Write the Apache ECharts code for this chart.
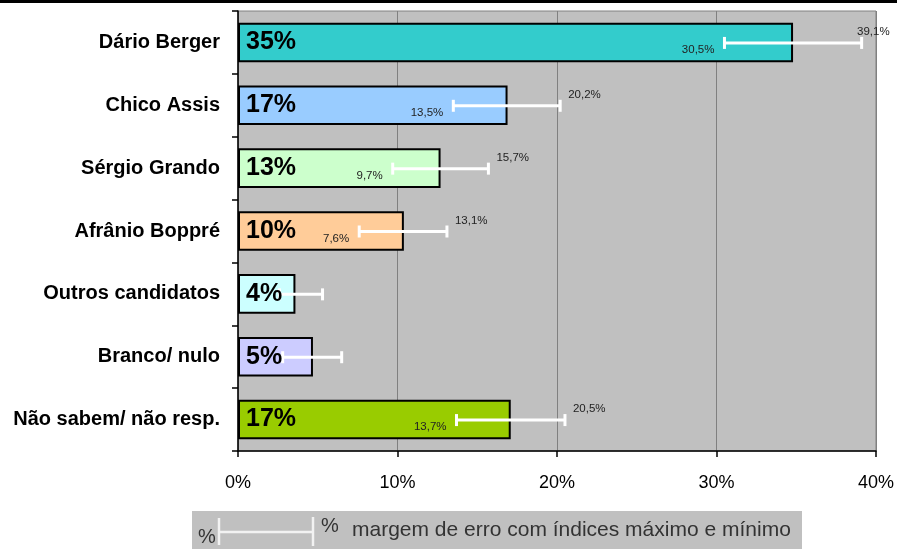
<!DOCTYPE html>
<html><head><meta charset="utf-8">
<script src="https://cdn.jsdelivr.net/npm/echarts@6/dist/echarts.min.js"></script>
<style>html,body{margin:0;padding:0;background:#fff}#c{width:897px;height:549px}</style>
</head><body><div id="c"></div>
<script>
const categories = ['Dário Berger','Chico Assis','Sérgio Grando','Afrânio Boppré','Outros candidatos','Branco/ nulo','Não sabem/ não resp.'];
const values = [34.8, 16.9, 12.7, 10.4, 3.6, 4.7, 17.1];
const errLow = [30.5, 13.5, 9.7, 7.6, 2.6, 2.8, 13.7];
const errHigh = [39.1, 20.2, 15.7, 13.1, 5.3, 6.5, 20.5];
const showErrLabels = [true, true, true, true, false, false, true];
const barColors = ['#33CCCC','#99CCFF','#CCFFCC','#FFCC99','#CCFFFF','#CCCCFF','#99CC00'];
const xMin = 0, xMax = 40, xStep = 10;
const legendText = 'margem de erro com índices máximo e mínimo';

const FONT = '"Liberation Sans", Arial, sans-serif';
const fmtPct = v => v.toFixed(1).replace('.', ',') + '%';

const chart = echarts.init(document.getElementById('c'), null, {renderer: 'canvas'});
chart.setOption({
  animation: false,
  backgroundColor: '#ffffff',
  grid: {left: 238, right: 21, top: 11, bottom: 98, show: true,
    backgroundColor: '#C0C0C0', borderColor: '#808080', borderWidth: 1},
  xAxis: {
    type: 'value', min: xMin, max: xMax, interval: xStep,
    axisLine: {show: true, lineStyle: {color: '#000', width: 1.5}},
    axisTick: {show: true, length: 6, lineStyle: {color: '#000', width: 1.5}},
    splitLine: {show: true, lineStyle: {color: '#808080', width: 1}},
    axisLabel: {formatter: '{value}%', fontFamily: FONT, fontSize: 18, color: '#000', margin: 23}
  },
  yAxis: {
    type: 'category', data: categories, inverse: true,
    axisLine: {show: true, lineStyle: {color: '#000', width: 1.5}},
    axisTick: {show: true, length: 6, lineStyle: {color: '#000', width: 1.5}},
    axisLabel: {fontFamily: FONT, fontSize: 20, fontWeight: 'bold', color: '#000', margin: 18}
  },
  series: [
    {
      type: 'bar', barWidth: '63%', z: 2,
      data: values.map((v, i) => ({value: v, itemStyle: {color: barColors[i]}})),
      itemStyle: {borderColor: '#000', borderWidth: 2}
    },
    {
      type: 'custom', z: 5,
      data: errLow.map((l, i) => [l, errHigh[i], i]),
      renderItem: function (params, api) {
        const i = params.dataIndex;
        const p0 = api.coord([api.value(0), i]);
        const p1 = api.coord([api.value(1), i]);
        const y = p0[1] + 0.5;
        const ch = 6;
        const st = {stroke: '#ffffff', lineWidth: 3};
        const children = [
          {type: 'line', shape: {x1: p0[0], y1: y, x2: p1[0], y2: y}, style: st},
          {type: 'line', shape: {x1: p0[0], y1: y - ch, x2: p0[0], y2: y + ch}, style: st},
          {type: 'line', shape: {x1: p1[0], y1: y - ch, x2: p1[0], y2: y + ch}, style: st}
        ];
        if (showErrLabels[i]) {
          children.push({type: 'text', x: p0[0] - 10, y: y + 7,
            style: {text: fmtPct(errLow[i]), align: 'right', verticalAlign: 'middle',
              font: '11.5px ' + FONT, fill: '#222'}});
          children.push({type: 'text', x: Math.min(p1[0] + 8, api.getWidth() - 40), y: y - 11,
            style: {text: fmtPct(errHigh[i]), align: 'left', verticalAlign: 'middle',
              font: '11.5px ' + FONT, fill: '#222'}});
        }
        return {type: 'group', children: children};
      }
    },
    {
      type: 'bar', barWidth: '63%', barGap: '-100%', z: 10,
      data: values,
      itemStyle: {color: 'rgba(0,0,0,0)', borderWidth: 0},
      label: {show: true, position: 'insideLeft', distance: 8,
        formatter: p => Math.round(p.value) + '%',
        fontFamily: FONT, fontSize: 25, fontWeight: 'bold', color: '#000'},
      silent: true
    }
  ],
  graphic: [
    {type: 'rect', left: 0, top: 0, shape: {width: 897, height: 3}, style: {fill: '#000'}},
    {type: 'rect', left: 192, top: 511, shape: {width: 610, height: 38}, style: {fill: '#C0C0C0'}},
    {type: 'text', left: 198, top: 527, style: {text: '%', font: '20px ' + FONT, fill: '#333'}},
    {type: 'line', shape: {x1: 219, y1: 532, x2: 313, y2: 532}, style: {stroke: '#f2f2f2', lineWidth: 2.5}},
    {type: 'line', shape: {x1: 219, y1: 518, x2: 219, y2: 545}, style: {stroke: '#f2f2f2', lineWidth: 2.5}},
    {type: 'line', shape: {x1: 313, y1: 517, x2: 313, y2: 546}, style: {stroke: '#f2f2f2', lineWidth: 2.5}},
    {type: 'text', left: 321, top: 516, style: {text: '%', font: '20px ' + FONT, fill: '#333'}},
    {type: 'text', left: 352, top: 520, style: {text: legendText, font: '21px ' + FONT, fill: '#333'}}
  ]
});
</script>
</body></html>
